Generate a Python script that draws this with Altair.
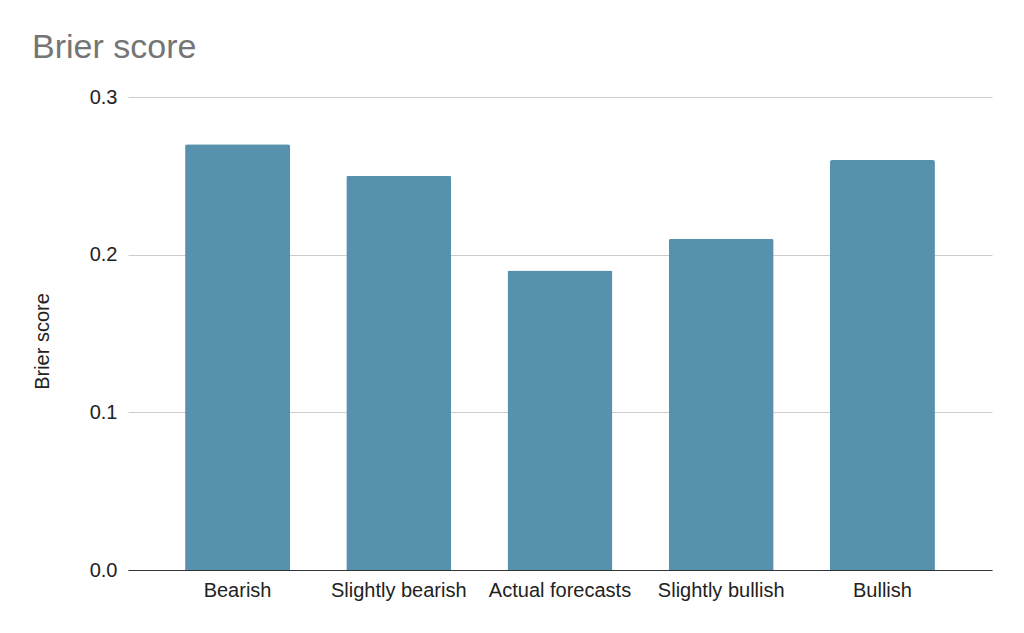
import altair as alt
import pandas as pd

categories = ["Bearish", "Slightly bearish", "Actual forecasts", "Slightly bullish", "Bullish"]
scores = [0.27, 0.25, 0.19, 0.21, 0.26]

df = pd.DataFrame({"category": categories, "score": scores})

FONT = "Liberation Sans"

chart = alt.Chart(df).mark_bar(
    color="#5891AD", cornerRadiusTopLeft=2, cornerRadiusTopRight=2
).encode(
    x=alt.X("category:N", sort=categories, title=None,
            scale=alt.Scale(paddingInner=0.349, paddingOuter=0.354),
            axis=alt.Axis(labelAngle=0, labelFont=FONT, labelFontSize=20,
                          labelColor="#222222", labelPadding=10, ticks=False,
                          domainColor="#333333", domainWidth=1.2, grid=False)),
    y=alt.Y("score:Q", title="Brier score",
            scale=alt.Scale(domain=[0, 0.3], nice=False),
            axis=alt.Axis(values=[0, 0.1, 0.2, 0.3], format=".1f",
                          labelFont=FONT, labelFontSize=20, labelColor="#222222",
                          labelPadding=11, ticks=False, domain=False,
                          gridColor="#cccccc", gridWidth=1,
                          titleFont=FONT, titleFontSize=20, titleFontWeight="normal",
                          titleColor="#222222", titleX=-86, titleY=244,
                          titleAlign="center", titleBaseline="middle", titleAngle=270))
).properties(
    width=864, height=473,
    title=alt.TitleParams("Brier score", anchor="start", frame="group",
                          font=FONT, fontSize=34, fontWeight="normal",
                          color="#757575", dx=-96, offset=22),
    padding={"left": 120, "top": 89, "right": 24, "bottom": 40},
    autosize=alt.AutoSizeParams(type="none"),
).configure_view(stroke=None)

chart.save("out.html", embed_options={"renderer": "svg", "actions": False})
